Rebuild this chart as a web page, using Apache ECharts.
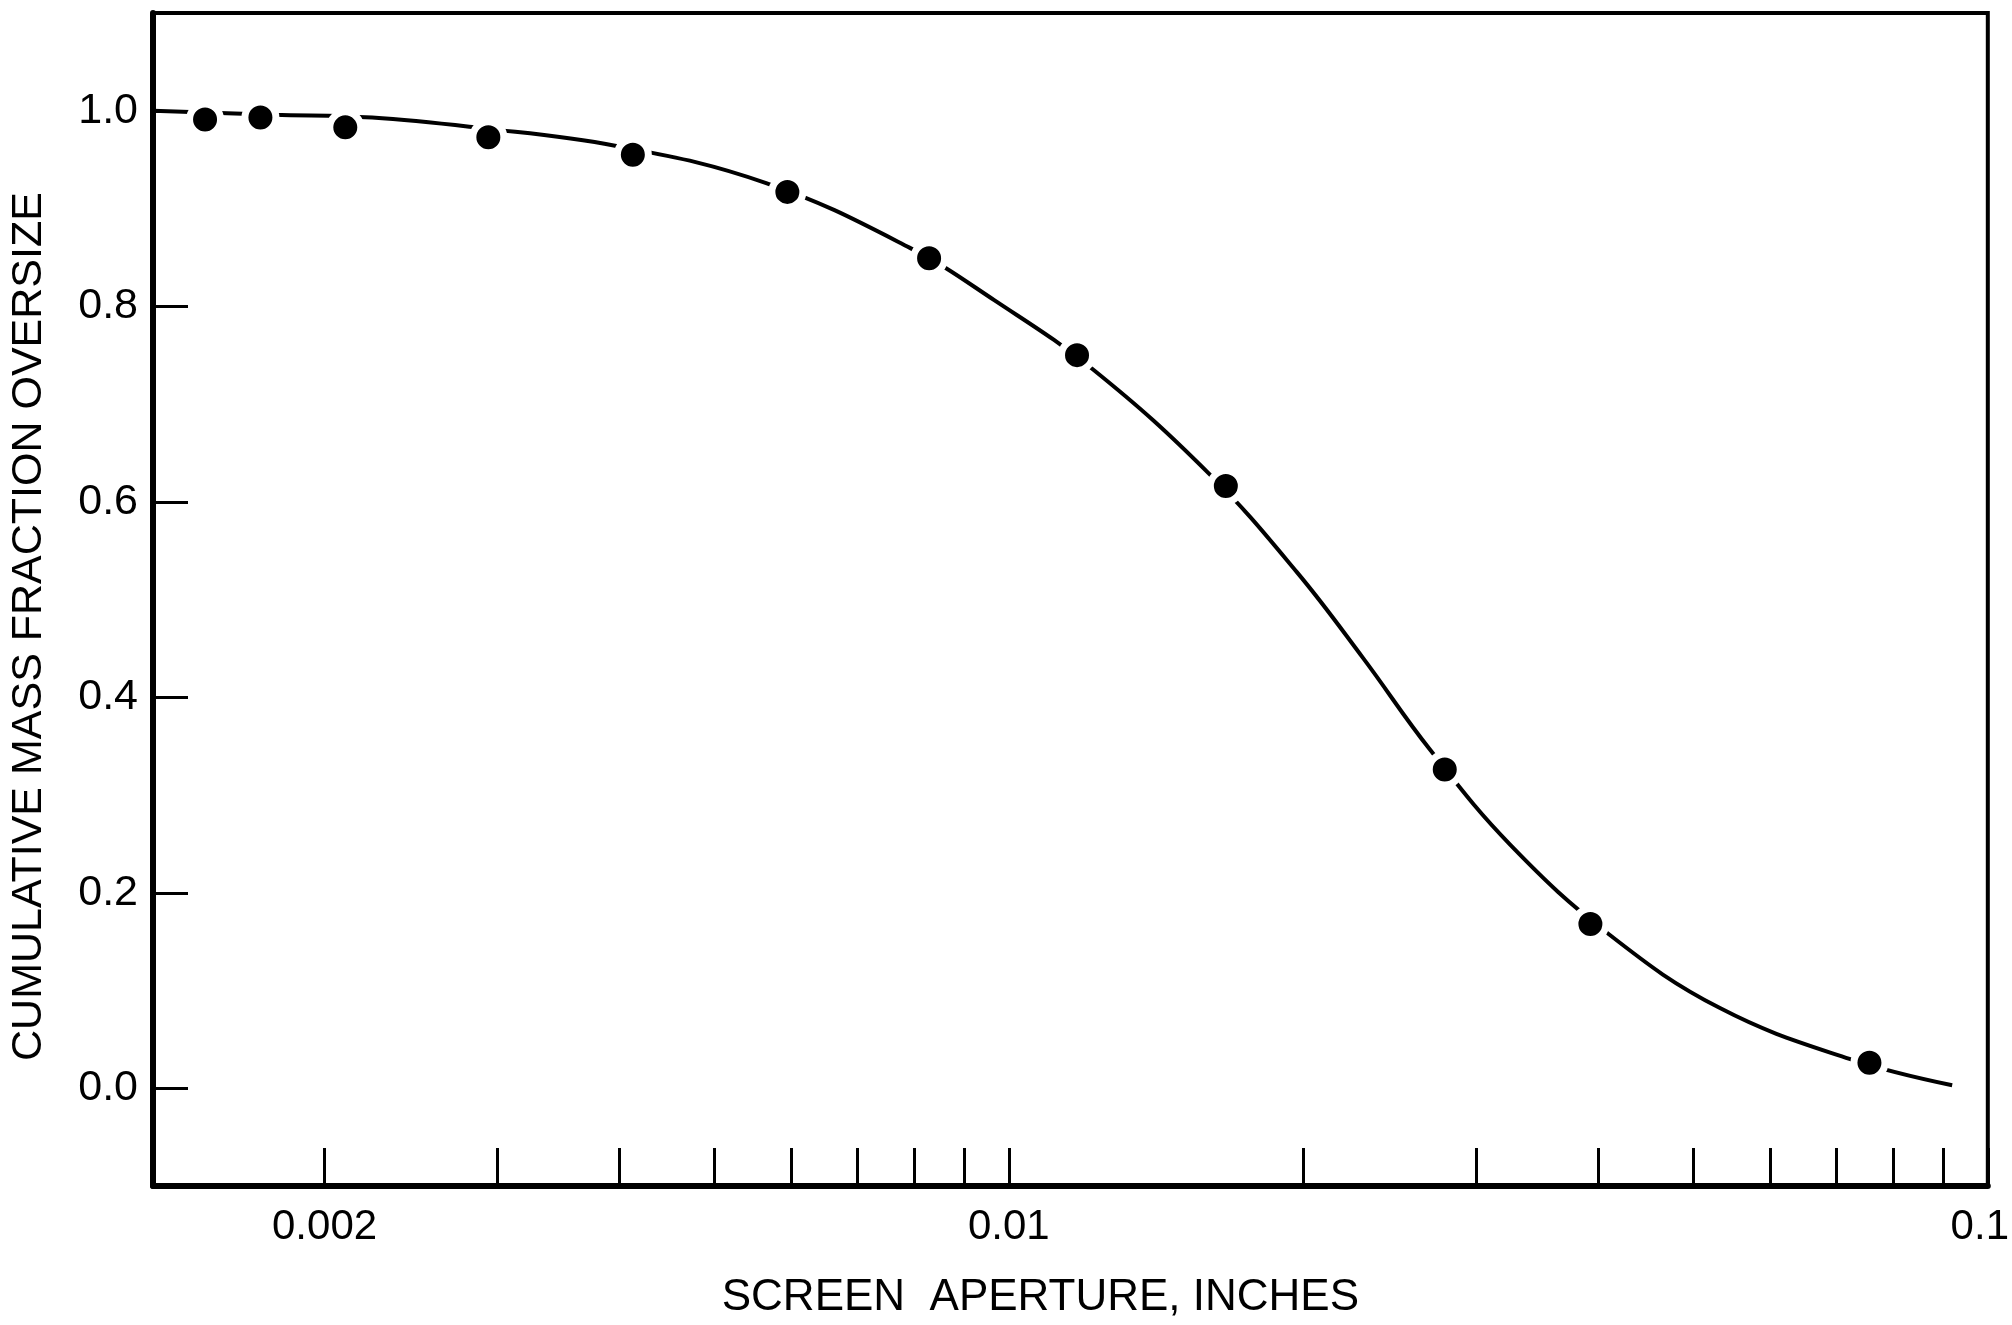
<!DOCTYPE html>
<html>
<head>
<meta charset="utf-8">
<script src="https://cdn.jsdelivr.net/npm/echarts@6/dist/echarts.min.js"></script>
<style>
html,body{margin:0;padding:0;background:#fff;}
#chart{width:2012px;height:1325px;}
</style>
</head>
<body>
<div id="chart"></div>
<script>
// Measured points (screen aperture in inches, cumulative mass fraction oversize)
const apertureIn = [0.00151, 0.00172, 0.00210, 0.00294, 0.00413, 0.00594, 0.00829, 0.01174, 0.01666, 0.02788, 0.03927, 0.0757];
const fractionOversize = [0.991, 0.993, 0.983, 0.973, 0.955, 0.917, 0.849, 0.750, 0.616, 0.326, 0.168, 0.026];

// Smooth fitted curve
const curveX = [0.001336, 0.001776, 0.002237, 0.002843, 0.003973, 0.005651, 0.007916, 0.009671, 0.01220, 0.01604, 0.01969, 0.02301, 0.02690, 0.03253, 0.04108, 0.05326, 0.07223, 0.09196];
const curveY = [1.000, 0.996, 0.993, 0.983, 0.964, 0.926, 0.860, 0.806, 0.735, 0.628, 0.528, 0.440, 0.347, 0.249, 0.157, 0.082, 0.030, 0.003];

// Axis ticks and labels
const xTickValues = [0.002, 0.003, 0.004, 0.005, 0.006, 0.007, 0.008, 0.009, 0.01, 0.02, 0.03, 0.04, 0.05, 0.06, 0.07, 0.08, 0.09, 0.1];
const xLabelValues = [0.002, 0.01, 0.1];
const xLabelTexts = ['0.002', '0.01', '0.1'];
const yTickValues = [0, 0.2, 0.4, 0.6, 0.8, 1.0];
const yLabelTexts = ['0.0', '0.2', '0.4', '0.6', '0.8', '1.0'];
const xRange = [0.001336, 0.1];
const yRange = [-0.1, 1.1];
const xTitle = 'SCREEN  APERTURE, INCHES';
const yTitle = 'CUMULATIVE MASS FRACTION OVERSIZE';

const curveData = curveX.map((x, i) => [x, curveY[i]]);
const pointData = apertureIn.map((x, i) => [x, fractionOversize[i]]);

function xLabelFor(v) {
  for (let i = 0; i < xLabelValues.length; i++) {
    if (Math.abs(Math.log10(v) - Math.log10(xLabelValues[i])) < 1e-6) return i;
  }
  return -1;
}

const chart = echarts.init(document.getElementById('chart'), null, {renderer: 'canvas'});
chart.setOption({
  backgroundColor: '#ffffff',
  animation: false,
  textStyle: {fontFamily: 'Liberation Sans', color: '#000'},
  grid: {
    left: 150, right: 16, top: 13, bottom: 136,
    show: true, borderColor: '#000', borderWidth: 4, backgroundColor: 'transparent'
  },
  xAxis: {
    type: 'log',
    logBase: 10,
    min: xRange[0],
    max: xRange[1],
    name: xTitle,
    nameLocation: 'middle',
    nameGap: 90,
    nameTextStyle: {fontFamily: 'Liberation Sans', fontSize: 44, color: '#000', padding: [0, 60, 0, 0]},
    axisLine: {show: true, onZero: false, lineStyle: {color: '#000', width: 6}},
    axisTick: {show: true, inside: true, length: 38, customValues: xTickValues, lineStyle: {color: '#000', width: 3}},
    minorTick: {show: false},
    splitLine: {show: false},
    axisLabel: {
      show: true,
      customValues: xLabelValues,
      margin: 20,
      fontSize: 42,
      fontFamily: 'Liberation Sans',
      color: '#000',
      formatter: function (v) {
        const i = xLabelFor(v);
        if (i < 0) return '';
        if (i === xLabelTexts.length - 1) return '{l|' + xLabelTexts[i] + '}';
        return xLabelTexts[i];
      },
      rich: {
        l: {fontSize: 42, fontFamily: 'Liberation Sans', color: '#000', padding: [0, 16, 0, 0]}
      }
    }
  },
  yAxis: {
    type: 'value',
    min: yRange[0],
    max: yRange[1],
    name: yTitle,
    nameLocation: 'middle',
    nameGap: 102,
    nameTextStyle: {fontFamily: 'Liberation Sans', fontSize: 43, color: '#000', padding: [0, 54, 0, 0]},
    axisLine: {show: true, onZero: false, lineStyle: {color: '#000', width: 6}},
    axisTick: {show: true, inside: true, length: 35, customValues: yTickValues, lineStyle: {color: '#000', width: 3}},
    splitLine: {show: false},
    axisLabel: {
      show: true,
      customValues: yTickValues,
      margin: 15,
      fontSize: 43,
      fontFamily: 'Liberation Sans',
      color: '#000',
      verticalAlign: 'middle',
      padding: [0, 0, 30, 0],
      formatter: function (v) {
        for (let i = 0; i < yTickValues.length; i++) {
          if (Math.abs(v - yTickValues[i]) < 1e-9) return yLabelTexts[i];
        }
        return '';
      }
    }
  },
  series: [
    {
      name: 'curve',
      type: 'line',
      data: curveData,
      smooth: 0.4,
      showSymbol: false,
      symbol: 'none',
      lineStyle: {color: '#000', width: 4},
      z: 2
    },
    {
      name: 'measured',
      type: 'scatter',
      data: pointData,
      symbol: 'circle',
      symbolSize: 31,
      itemStyle: {color: '#000', borderColor: '#fff', borderWidth: 7, opacity: 1},
      z: 3
    }
  ]
});
</script>
</body>
</html>
